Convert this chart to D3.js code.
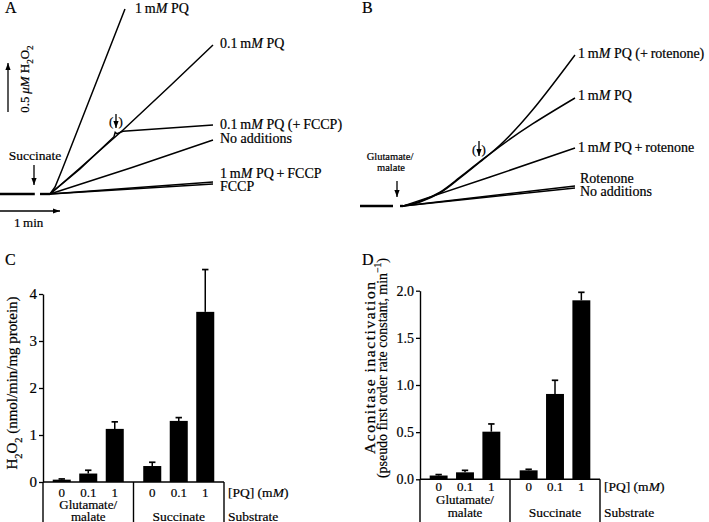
<!DOCTYPE html>
<html><head><meta charset="utf-8">
<script src="https://cdn.jsdelivr.net/npm/d3@7"></script>
<style>
body{margin:0;background:#fff}
text{font-family:"Liberation Serif","Times New Roman","DejaVu Serif",serif;fill:#000;stroke:#000;stroke-width:0.2px}
</style></head>
<body><svg id="fig" width="709" height="522"></svg>
<script>
// ---------- DATA ----------
// Panel A traces: [time (min), H2O2 (µM)]
const aPreBaseline  = [[0,0],[0.58,0]];
const aPostBaseline = [[0.667,0],[0.833,0]];
const aPQ1      = [[0.833,0],[0.917,0.071],[1.033,0.245],[2.083,1.888]];
const aPQ01     = [[0.833,0],[1.333,0.265],[2.05,0.653],[2.833,1.102],[3.55,1.52]];
const aPQ01FCCP = [[0.833,0],[1.333,0.255],[1.9,0.585],[1.92,0.63],[1.95,0.615],[2.05,0.64],[3.55,0.704]];
const aNone     = [[0.833,0],[2.2,0.27],[3.55,0.551]];
const aPQ1FCCP  = [[0.833,0],[3.55,0.122]];
const aFCCP     = [[0.833,0],[3.55,0.102]];
// Panel B traces
const bPreBaseline  = [[0,0],[0.55,0]];
const bPostBaseline = [[0.667,0],[0.717,0]];
const bPQ1Rot   = [[0.717,0],[1.0,0.047],[1.333,0.141],[1.667,0.294],[2.0,0.455],[2.167,0.533],[3.583,1.541]];
const bPQ1      = [[0.717,0],[1.0,0.041],[1.333,0.133],[1.667,0.286],[2.0,0.449],[2.167,0.531],[3.583,1.102]];
const bPQ1plusRot = [[0.717,0],[2.167,0.296],[3.583,0.592]];
const bRot      = [[0.717,0],[3.583,0.204]];
const bNone     = [[0.717,0],[3.583,0.184]];
// Panels C & D bars
const substrates = ["Glutamate/malate","Succinate"];
const pqLevels   = ["0","0.1","1"];
const h2o2Mean = [0.05,0.18,1.13, 0.34,1.30,3.62];
const h2o2Err  = [0.015,0.07,0.15, 0.08,0.07,0.90];
const acoMean  = [0.04,0.074,0.505, 0.095,0.905,1.898];
const acoErr   = [0.01,0.021,0.082, 0.011,0.145,0.085];
const cTicks = [0,1,2,3,4];
const dTicks = [0,0.5,1.0,1.5,2.0];

// ---------- HELPERS ----------
const svg = d3.select("#fig");
function rich(g, x, y, parts, size, opts={}){
  const t = g.append("text").attr("font-size",size);
  if(opts.transform){ t.attr("transform",opts.transform); } else { t.attr("x",x).attr("y",y); }
  if(opts.anchor) t.attr("text-anchor",opts.anchor);
  if(opts.len) t.attr("textLength",opts.len).attr("lengthAdjust","spacing");
  let shift = 0;
  parts.forEach(p=>{
    const [s,st] = typeof p==="string" ? [p,""] : p;
    const ts = t.append("tspan").text(s);
    let target = 0;
    if(st==="i") ts.attr("font-style","italic");
    if(st==="sub"){ ts.attr("font-size",size*0.7); target = size*0.3; }
    if(st==="sup"){ ts.attr("font-size",size*0.7); target = -size*0.4; }
    if(target!==shift){ ts.attr("dy",target-shift); shift=target; }
  });
  return t;
}
function arrow(g,x1,y1,x2,y2){
  g.append("line").attr("x1",x1).attr("y1",y1).attr("x2",x2).attr("y2",y2)
    .attr("stroke","#000").attr("stroke-width",1.3);
  const ang = Math.atan2(y2-y1,x2-x1), L=7, w=2.6;
  const p = [[x2,y2],
    [x2-L*Math.cos(ang)+w*Math.sin(ang), y2-L*Math.sin(ang)-w*Math.cos(ang)],
    [x2-L*Math.cos(ang)-w*Math.sin(ang), y2-L*Math.sin(ang)+w*Math.cos(ang)]];
  g.append("path").attr("d","M"+p.join("L")+"Z").attr("fill","#000");
}
const PQ1  = ["1\u2009m",["M","i"]," PQ"];
const PQ01 = ["0.1\u2009m",["M","i"]," PQ"];

// ---------- PANEL A ----------
const gA = svg.append("g");
const xA = d3.scaleLinear().domain([0,3.55]).range([0,213]);
const yA = d3.scaleLinear().domain([0,2]).range([194,-2]);
const lnA = d3.line().x(d=>xA(d[0])).y(d=>yA(d[1]));
[aPreBaseline,aPostBaseline].forEach(d=>gA.append("path").attr("d",lnA(d)).attr("fill","none").attr("stroke","#000").attr("stroke-width",2.4));
[aPQ1,aPQ01,aPQ01FCCP,aNone,aPQ1FCCP,aFCCP].forEach(d=>
  gA.append("path").attr("d",lnA(d)).attr("fill","none").attr("stroke","#000").attr("stroke-width",1.5));
rich(gA,5,13,["A"],16);
rich(gA,135,13,PQ1,14);
rich(gA,220,48,PQ01,14);
rich(gA,220,129,[...PQ01," (+\u2009FCCP)"],14);
rich(gA,220,143,["No additions"],14);
rich(gA,220,178,[...PQ1,"\u2009+\u2009FCCP"],14);
rich(gA,220,191,["FCCP"],14);
rich(gA,35,160,["Succinate"],13.5,{anchor:"middle"});
arrow(gA,34,165,34,185);
rich(gA,116,126,["(\u2009\u2009)"],13,{anchor:"middle"});
arrow(gA,116,114,116,128);
arrow(gA,8,112,8,63);
rich(gA,0,0,["0.5\u2009",["\u03bcM","i"]," H",["2","sub"],"O",["2","sub"]],13,{transform:"translate(29,79) rotate(-90)",anchor:"middle"});
arrow(gA,0,211,60,211);
rich(gA,14,227,["1\u2009min"],13);

// ---------- PANEL B ----------
const gB = svg.append("g");
const xB = d3.scaleLinear().domain([0,3.583]).range([360,575]);
const yB = d3.scaleLinear().domain([0,2]).range([206,10]);
const lnB = d3.line().x(d=>xB(d[0])).y(d=>yB(d[1])).curve(d3.curveMonotoneX);
[bPreBaseline,bPostBaseline].forEach(d=>gB.append("path").attr("d",lnB(d)).attr("fill","none").attr("stroke","#000").attr("stroke-width",2.4));
[bPQ1Rot,bPQ1,bPQ1plusRot,bRot,bNone].forEach(d=>
  gB.append("path").attr("d",lnB(d)).attr("fill","none").attr("stroke","#000").attr("stroke-width",1.5));
rich(gB,362,13,["B"],16);
rich(gB,578,58,[...PQ1," (+\u2009rotenone)"],14);
rich(gB,578,100,PQ1,14);
rich(gB,578,152,[...PQ1,"\u2009+\u2009rotenone"],14);
rich(gB,580,183,["Rotenone"],14);
rich(gB,580,196,["No additions"],14);
rich(gB,390,160,["Glutamate/"],10.5,{anchor:"middle"});
rich(gB,391,171,["malate"],10.5,{anchor:"middle"});
arrow(gB,397,181,397,197);
rich(gB,479,154,["(\u2009\u2009)"],13,{anchor:"middle"});
arrow(gB,479,141,479,156);

// ---------- BAR PANELS ----------
function barPanel(opt){
  const g = svg.append("g");
  const y = d3.scaleLinear().domain(opt.domain).range(opt.yRange);
  const x0 = d3.scaleBand().domain(substrates).range(opt.xRange);
  const x1 = d3.scaleBand().domain(pqLevels).range([0,x0.bandwidth()]).paddingInner(0.32).paddingOuter(0.3675);
  const rows = [];
  substrates.forEach((s,i)=>pqLevels.forEach((p,j)=>rows.push({s,p,m:opt.mean[i*3+j],e:opt.err[i*3+j]})));
  const cx = d=>x0(d.s)+x1(d.p)+x1.bandwidth()/2;
  rows.forEach(d=>{
    g.append("line").attr("x1",cx(d)).attr("x2",cx(d)).attr("y1",y(d.m)).attr("y2",y(d.m+d.e)).attr("stroke","#000").attr("stroke-width",1.5);
    g.append("line").attr("x1",cx(d)-3.2).attr("x2",cx(d)+3.2).attr("y1",y(d.m+d.e)).attr("y2",y(d.m+d.e)).attr("stroke","#000").attr("stroke-width",1.7);
  });
  g.selectAll("rect.bar").data(rows).join("rect").attr("class","bar")
    .attr("x",d=>x0(d.s)+x1(d.p)).attr("width",x1.bandwidth())
    .attr("y",d=>y(d.m)).attr("height",d=>y(0)-y(d.m)).attr("fill","#000");
  const ax = g.append("g").attr("transform",`translate(${opt.xRange[0]},0)`)
    .call(d3.axisLeft(y).tickValues(opt.ticks).tickFormat(opt.fmt).tickSize(4).tickSizeOuter(0).tickPadding(2));
  ax.select(".domain").attr("stroke","#000").attr("stroke-width",1.4);
  ax.selectAll(".tick line").attr("stroke","#000").attr("stroke-width",1.3);
  ax.selectAll(".tick text").attr("font-size",opt.tickSize).attr("fill","#000");
  const y0 = y(0);
  g.append("line").attr("x1",opt.xRange[0]).attr("x2",opt.xRange[1]).attr("y1",y0).attr("y2",y0).attr("stroke","#000").attr("stroke-width",1.4);
  [opt.xRange[0], x0("Succinate"), opt.xRange[1]].forEach(xx=>
    g.append("line").attr("x1",xx).attr("x2",xx).attr("y1",y0).attr("y2",522).attr("stroke","#000").attr("stroke-width",1.4));
  pqLevels.forEach(p=>substrates.forEach(s=>
    rich(g,x0(s)+x1(p)+x1.bandwidth()/2,opt.pqY,[p],13,{anchor:"middle"})));
  const gc = s=>x0(s)+x0.bandwidth()/2;
  rich(g,gc("Glutamate/malate"),opt.subY1,["Glutamate/"],13,{anchor:"middle"});
  rich(g,gc("Glutamate/malate"),opt.subY2,["malate"],13,{anchor:"middle"});
  rich(g,gc("Succinate"),opt.subY2,["Succinate"],13.5,{anchor:"middle"});
  rich(g,opt.xRange[1]+4,opt.pqY,["[PQ] (m",["M","i"],")"],13.5);
  rich(g,opt.xRange[1]+4,opt.subY2,["Substrate"],13.5);
  return g;
}
const gC = barPanel({domain:[0,4],yRange:[482,294],xRange:[43,224],mean:h2o2Mean,err:h2o2Err,
  ticks:cTicks,fmt:d3.format("d"),tickSize:15,pqY:496.5,subY1:509,subY2:520.5});
rich(gC,5,265,["C"],16);
rich(gC,0,0,["H",["2","sub"],"O",["2","sub"]," (nmol/min/mg protein)"],15,{transform:"translate(17,383) rotate(-90)",anchor:"middle",len:173});

const gD = barPanel({domain:[0,2],yRange:[479.3,290.7],xRange:[420,600],mean:acoMean,err:acoErr,
  ticks:dTicks,fmt:d3.format(".1f"),tickSize:14,pqY:491,subY1:503.5,subY2:517});
rich(gD,362,265,["D"],16);
rich(gD,0,0,["Aconitase inactivation"],15.5,{transform:"translate(375,368) rotate(-90)",anchor:"middle",len:172});
rich(gD,0,0,["(pseudo first order rate constant, min",["\u22121","sup"],")"],14,{transform:"translate(387,368) rotate(-90)",anchor:"middle",len:220});
</script></body></html>
